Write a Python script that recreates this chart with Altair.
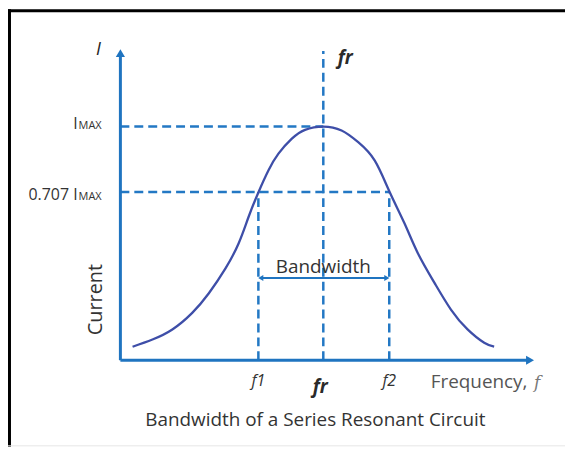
import altair as alt
import pandas as pd

# ---------------- data ----------------
freq = [6.0, 15.8, 25.6, 35.4, 43.6, 51.8, 58.3, 63.2, 68.1, 73.0, 77.9, 84.5, 91.0,
        100.0, 109.0, 117.2, 125.3, 132.7, 140.0, 146.6, 154.8, 162.9, 171.1, 179.3, 184.2]
current = [0.058, 0.089, 0.132, 0.203, 0.287, 0.393, 0.501, 0.614, 0.720, 0.813, 0.884,
           0.948, 0.986, 1.0, 0.983, 0.933, 0.855, 0.720, 0.586, 0.458, 0.331, 0.217,
           0.132, 0.075, 0.058]
f1, fr, f2 = 68.0, 100.0, 132.5
i_max = 1.0
half_power = 0.72          # drawn level of the "0.707 IMAX" line
bandwidth_level = 0.352
fr_line_top = 1.323
y_axis_top = 1.314         # centre of the arrow head
x_axis_end = 201.9         # centre of the arrow head

tick_names = ["f1", "f2"]
tick_freqs = [f1, f2]

# ---------------- layout ----------------
W, H = 560, 440
PX_X, PX_Y = 2.04, 235.0
ORIGIN_X, ORIGIN_Y = 113, 353
x_dom = [-ORIGIN_X / PX_X, (W - ORIGIN_X) / PX_X]
y_dom = [(ORIGIN_Y - H) / PX_Y, ORIGIN_Y / PX_Y]
xs = alt.Scale(domain=x_dom, nice=False, zero=False)
ys = alt.Scale(domain=y_dom, nice=False, zero=False)

BLUE = "#1f74c0"
DASH = "#2378c4"
CURVE = "#3e4ea8"
TXT = "#333333"
FONT = "Open Sans"

one = pd.DataFrame({"a": [0]})


def X(field="x"):
    return alt.X(f"{field}:Q", scale=xs, axis=None)


def Y(field="y"):
    return alt.Y(f"{field}:Q", scale=ys, axis=None)


def hrule(x1, x2, y, **mk):
    df = pd.DataFrame({"x": [x1], "x2": [x2], "y": [y]})
    return alt.Chart(df).mark_rule(**mk).encode(x=X(), x2="x2:Q", y=Y())


def vrule(x, y1, y2, **mk):
    df = pd.DataFrame({"x": [x], "y": [y1], "y2": [y2]})
    return alt.Chart(df).mark_rule(**mk).encode(x=X(), y=Y(), y2="y2:Q")


def head(x, y, shape, size, color=BLUE):
    df = pd.DataFrame({"x": [x], "y": [y]})
    return alt.Chart(df).mark_point(shape=shape, size=size, filled=True, opacity=1,
                                    color=color, strokeWidth=0).encode(x=X(), y=Y())


def ptext(txt, px, py, **mk):
    return alt.Chart(one).mark_text(text=txt, font=FONT, **mk).encode(
        x=alt.value(px), y=alt.value(py))


dash = dict(color=DASH, strokeWidth=2.5, strokeDash=[9, 5])

layers = []
# frame
layers.append(alt.Chart(one).mark_rule(color="black", strokeWidth=3).encode(
    x=alt.value(1.5), y=alt.value(0), y2=alt.value(H)))
layers.append(alt.Chart(one).mark_rule(color="black", strokeWidth=3).encode(
    x=alt.value(0), x2=alt.value(W), y=alt.value(1.5)))
layers.append(alt.Chart(one).mark_rule(color="#e6e6e6", strokeWidth=1).encode(
    x=alt.value(0), x2=alt.value(W), y=alt.value(H - 1)))

# dashed guides
layers.append(hrule(0, fr, i_max, **dash))
layers.append(hrule(0, f2, half_power, **dash))
layers.append(vrule(fr, 0, fr_line_top, **dash))
layers.append(vrule(f1, 0, half_power, **dash))
layers.append(vrule(f2, 0, half_power, **dash))

# axes with arrows
layers.append(vrule(0, 0, y_axis_top, color=BLUE, strokeWidth=3))
layers.append(hrule(0, x_axis_end, 0, color=BLUE, strokeWidth=3))
layers.append(head(0, y_axis_top, "triangle-up", 85))
layers.append(head(x_axis_end, 0, "triangle-right", 85))

# bandwidth arrow
off = 2.4 / PX_X
layers.append(hrule(f1 + off, f2 - off, bandwidth_level, color=BLUE, strokeWidth=2))
layers.append(head(f1 + off, bandwidth_level, "triangle-left", 36))
layers.append(head(f2 - off, bandwidth_level, "triangle-right", 36))

# curve
curve_df = pd.DataFrame({"f": freq, "i": current})
layers.append(alt.Chart(curve_df).mark_line(color=CURVE, strokeWidth=2.3,
                                            interpolate="natural").encode(
    x=X("f"), y=Y("i")))

# texts tied to data positions
bw_df = pd.DataFrame({"x": [fr], "y": [bandwidth_level]})
layers.append(alt.Chart(bw_df).mark_text(text="Bandwidth", font=FONT, fontSize=19,
                                         color=TXT, dy=-11, baseline="middle").encode(
    x=X(), y=Y()))

ticks_df = pd.DataFrame({"x": tick_freqs, "t": tick_names})
layers.append(alt.Chart(ticks_df).mark_text(font=FONT, fontSize=16, fontStyle="italic",
                                            color=TXT, baseline="middle").encode(
    x=X(), y=alt.value(374), text="t:N"))
fr_df = pd.DataFrame({"x": [fr]})
layers.append(alt.Chart(fr_df).mark_text(text="fr", font=FONT, fontSize=19,
                                         fontStyle="italic", fontWeight="bold",
                                         color="#2a2a2a", baseline="middle", dx=-3).encode(
    x=X(), y=alt.value(380)))
layers.append(alt.Chart(fr_df).mark_text(text="fr", font=FONT, fontSize=19,
                                         fontStyle="italic", fontWeight="bold",
                                         color="#2a2a2a", baseline="middle", dx=22).encode(
    x=X(), y=alt.value(49)))

for lvl, lab, d in zip([i_max, half_power], ["I", "0.707 I"], [2, 8]):
    df = pd.DataFrame({"y": [lvl]})
    layers.append(alt.Chart(df).mark_text(text=lab, font=FONT, fontSize=16, color=TXT,
                                          align="right", baseline="alphabetic", dy=d).encode(
        x=alt.value(70), y=Y()))
    layers.append(alt.Chart(df).mark_text(text="MAX", font=FONT, fontSize=11, color=TXT,
                                          align="left", baseline="alphabetic", dy=d).encode(
        x=alt.value(71), y=Y()))

# free texts
layers.append(ptext("I", 91, 41, fontSize=18, fontStyle="italic", color="#222",
                    baseline="middle"))
layers.append(ptext("Current", 89, 292, fontSize=20, color=TXT, angle=270,
                    baseline="middle"))
layers.append(ptext("Frequency,", 425, 375, fontSize=19, color="#555", align="left",
                    baseline="middle"))
layers.append(alt.Chart(one).mark_text(text="f", font="DejaVu Serif", fontSize=17,
                                       fontStyle="italic", color="#777",
                                       baseline="middle").encode(
    x=alt.value(532), y=alt.value(376)))
layers.append(ptext("Bandwidth of a Series Resonant Circuit", 309, 413, fontSize=19,
                    color="#333", baseline="middle"))

chart = alt.layer(*layers).properties(
    width=W, height=H, padding=0, autosize=alt.AutoSizeParams(type="none"),
    background="white"
).configure_view(stroke=None)

chart.save("out.html", embed_options={"renderer": "svg", "actions": False})
